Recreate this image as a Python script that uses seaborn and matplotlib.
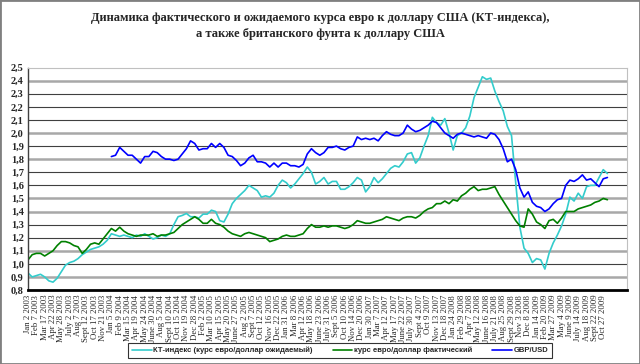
import numpy as np
import pandas as pd
import seaborn as sns
import matplotlib.pyplot as plt
from matplotlib.ticker import FuncFormatter
from matplotlib.patches import Rectangle

# labels under every 2nd sample (one sample = half a label interval)
date_labels = ['Jan 2 2003', 'Feb 7 2003', 'Mar 17 2003', 'Apr 22 2003', 'May 28 2003',
               'July 2 2003', 'Aug 7 2003', 'Sept 12 2003', 'Oct 17 2003', 'Nov 21 2003',
               'Jan 5 2004', 'Feb 9 2004', 'Mar 15 2004', 'Apr 19 2004', 'May 24 2004',
               'June 30 2004', 'Aug 5 2004', 'Sept 10 2004', 'Oct 15 2004', 'Nov 19 2004',
               'Dec 28 2004', 'Feb 2 2005', 'Mar 10 2005', 'Apr 15 2005', 'May 20 2005',
               'June 27 2005', 'Aug 2 2005', 'Sept 7 2005', 'Oct 12 2005', 'Nov 16 2005',
               'Dec 22 2005', 'Jan 31 2006', 'Mar 8 2006', 'Apr 12 2006', 'May 18 2006',
               'June 23 2006', 'July 31 2006', 'Sept 5 2006', 'Oct 10 2006', 'Nov 14 2006',
               'Dec 20 2006', 'Jan 30 2007', 'Mar 7 2007', 'Apr 12 2007', 'May 17 2007',
               'June 22 2007', 'July 30 2007', 'Sept 4 2007', 'Oct 9 2007', 'Nov 13 2007',
               'Dec 18 2007', 'Jan 24 2008', 'Feb 29 2008', 'Apr 7 2008', 'May 12 2008',
               'June 16 2008', 'July 21 2008', 'Aug 25 2008', 'Sept 29 2008', 'Nov 3 2008',
               'Dec 8 2008', 'Jan 14 2009', 'Feb 20 2009', 'Mar 27 2009', 'May 4 2009',
               'June 9 2009', 'July 14 2009', 'Aug 18 2009', 'Sept 22 2009', 'Oct 27 2009']

kt_index = [0.93, 0.90, 0.91, 0.92, 0.90, 0.87, 0.86, 0.89, 0.94, 0.99,
            1.01, 1.02, 1.04, 1.07, 1.09, 1.11, 1.12, 1.13, 1.15, 1.18,
            1.23, 1.22, 1.21, 1.22, 1.21, 1.20, 1.22, 1.21, 1.23, 1.21,
            1.19, 1.20, 1.22, 1.21, 1.23, 1.30, 1.36, 1.37, 1.385, 1.36,
            1.36, 1.35, 1.38, 1.38, 1.41, 1.40, 1.33, 1.32, 1.38, 1.46,
            1.50, 1.53, 1.56, 1.60, 1.58, 1.56, 1.51, 1.52, 1.51, 1.54,
            1.60, 1.64, 1.62, 1.58, 1.61, 1.65, 1.69, 1.74, 1.70, 1.61,
            1.63, 1.66, 1.61, 1.63, 1.63, 1.57, 1.57, 1.59, 1.62, 1.66,
            1.64, 1.55, 1.59, 1.66, 1.62, 1.65, 1.69, 1.73, 1.75, 1.74,
            1.78, 1.84, 1.85, 1.77, 1.81, 1.90, 1.98, 2.12, 2.08, 2.06,
            2.11, 2.00, 1.87, 1.98, 2.00, 2.04, 2.13, 2.27, 2.35, 2.43,
            2.41, 2.42, 2.32, 2.24, 2.17, 2.05, 1.98, 1.62, 1.28, 1.12,
            1.08, 1.01, 1.04, 1.03, 0.96, 1.08, 1.16, 1.22, 1.29, 1.38,
            1.51, 1.48, 1.54, 1.50, 1.59, 1.60, 1.60, 1.66, 1.72, 1.69]

eur_usd = [1.03, 1.07, 1.08, 1.08, 1.06, 1.08, 1.10, 1.14, 1.17, 1.17,
           1.16, 1.14, 1.13, 1.08, 1.11, 1.15, 1.16, 1.15, 1.19, 1.23,
           1.27, 1.25, 1.28, 1.25, 1.23, 1.22, 1.21, 1.22, 1.22, 1.22,
           1.23, 1.21, 1.22, 1.22, 1.23, 1.24, 1.27, 1.30, 1.32, 1.34,
           1.36, 1.34, 1.31, 1.31, 1.34, 1.31, 1.30, 1.28, 1.25, 1.23,
           1.22, 1.21, 1.23, 1.24, 1.23, 1.22, 1.21, 1.20, 1.17, 1.18,
           1.19, 1.21, 1.22, 1.21, 1.21, 1.22, 1.23, 1.27, 1.30, 1.28,
           1.28, 1.29, 1.28, 1.29, 1.29, 1.28, 1.27, 1.28, 1.30, 1.33,
           1.32, 1.31, 1.31, 1.32, 1.33, 1.34, 1.36, 1.35, 1.34, 1.33,
           1.35, 1.36, 1.36, 1.35, 1.37, 1.40, 1.42, 1.43, 1.46, 1.46,
           1.48, 1.46, 1.49, 1.48, 1.52, 1.54, 1.57, 1.59, 1.56, 1.57,
           1.57, 1.58, 1.59, 1.53, 1.48, 1.43, 1.38, 1.33, 1.29, 1.28,
           1.42, 1.38, 1.32, 1.30, 1.27, 1.33, 1.34, 1.31, 1.35, 1.40,
           1.40, 1.40, 1.42, 1.43, 1.44, 1.45, 1.47, 1.48, 1.50, 1.49]

gbp_usd = [None] * 20 + [
           1.82, 1.83, 1.89, 1.86, 1.83, 1.83, 1.80, 1.77, 1.82, 1.82,
           1.86, 1.85, 1.82, 1.80, 1.80, 1.79, 1.80, 1.84, 1.88, 1.94,
           1.92, 1.87, 1.88, 1.88, 1.92, 1.89, 1.92, 1.89, 1.83, 1.82,
           1.79, 1.75, 1.77, 1.81, 1.83, 1.78, 1.78, 1.77, 1.74, 1.77,
           1.74, 1.77, 1.77, 1.75, 1.75, 1.74, 1.76, 1.84, 1.88, 1.85,
           1.83, 1.85, 1.89, 1.89, 1.90, 1.88, 1.87, 1.89, 1.90, 1.97,
           1.95, 1.96, 1.95, 1.96, 1.94, 1.98, 2.01, 1.99, 1.98, 1.98,
           2.00, 2.06, 2.03, 2.01, 2.02, 2.04, 2.06, 2.09, 2.08, 2.04,
           2.00, 1.98, 1.96, 1.99, 2.00, 1.99, 1.98, 1.97, 1.98, 1.97,
           1.96, 2.00, 1.99, 1.95, 1.88, 1.78, 1.80, 1.72, 1.58, 1.51,
           1.55, 1.47, 1.44, 1.43, 1.40, 1.42, 1.46, 1.49, 1.50, 1.60,
           1.64, 1.63, 1.65, 1.68, 1.64, 1.65, 1.62, 1.59, 1.65, 1.66]

series_names = ['КТ-индекс (курс евро/доллар ожидаемый)',
                'курс евро/доллар фактический',
                'GBP/USD']
series_colors = ['#33CCCC', '#008000', '#0000FF']

sns.set_style('white')
plt.rcParams['font.family'] = ['Liberation Serif', 'DejaVu Serif']

step = np.arange(len(kt_index))
df = pd.DataFrame({'step': step,
                   series_names[0]: kt_index,
                   series_names[1]: eur_usd,
                   series_names[2]: gbp_usd})
df_long = df.melt('step', var_name='series', value_name='rate').dropna()
df_long['rate'] = df_long['rate'].astype(float)

fig = plt.figure(figsize=(6.4, 3.64), dpi=100)
ax = fig.add_axes([28 / 640, 1 - 290 / 364, (627 - 28) / 640, (290 - 67.6) / 364])

# gridlines, alternating grey/dark as in the original gif
yvals = np.round(np.arange(0.9, 2.45, 0.1), 1)
grid_dark = [False, True, False, True, True, False, False, True,
             True, False, True, False, True, True, True, False]
for v, dark in zip(yvals, grid_dark):
    if dark:
        ax.axhline(v, color='#404040', lw=0.8, zorder=0)
    else:
        ax.axhline(v, color='#a8a8a8', lw=1.8, zorder=0)

sns.lineplot(data=df_long, x='step', y='rate', hue='series', hue_order=series_names,
             palette=series_colors, estimator=None, lw=1.2, ax=ax)

ax.set_xlim(0, 143.7)
ax.set_ylim(0.8, 2.5)
ax.set_yticks(np.round(np.arange(0.8, 2.51, 0.1), 1))
ax.yaxis.set_major_formatter(FuncFormatter(lambda v, p: '{:.1f}'.format(v).replace('.', ',')))
ax.set_xticks(step[::2])
ax.set_xticklabels(date_labels, rotation=90, fontsize=6.3)
for t in ax.get_yticklabels():
    t.set_fontsize(7.5)
    t.set_fontweight('bold')
ax.tick_params(axis='y', length=0, pad=3)
ax.tick_params(axis='x', length=2.5, width=0.8, pad=1)
ax.set_xlabel('')
ax.set_ylabel('')

ax.spines['bottom'].set_color('black')
ax.spines['bottom'].set_linewidth(2)
ax.spines['left'].set_color('#404040')
ax.spines['left'].set_linewidth(1)
ax.spines['top'].set_color('#c0c0c0')
ax.spines['right'].set_color('#c0c0c0')

handles, labels = ax.get_legend_handles_labels()
ax.get_legend().remove()
leg = fig.legend(handles, labels, loc='center', bbox_to_anchor=(340 / 640, 1 - 350.5 / 364),
                 ncol=3, frameon=True, fancybox=False, edgecolor='black',
                 prop={'family': 'Liberation Sans', 'weight': 'bold', 'size': 5.5},
                 handlelength=2.6, handletextpad=0.2, columnspacing=2.6,
                 borderpad=0.45, borderaxespad=0)
leg.get_frame().set_linewidth(0.8)

fig.text(0.5, 1 - 18 / 364, 'Динамика фактического и ожидаемого курса евро к доллару США (КТ-индекса),',
         ha='center', va='center', fontsize=9, fontweight='bold')
fig.text(0.5, 1 - 34 / 364, 'а также британского фунта к доллару США',
         ha='center', va='center', fontsize=9, fontweight='bold')

fig.patches.append(Rectangle((0, 0), 1, 1, transform=fig.transFigure, fill=False,
                             edgecolor='#808080', lw=2))

fig.savefig('out.png', dpi=100)
